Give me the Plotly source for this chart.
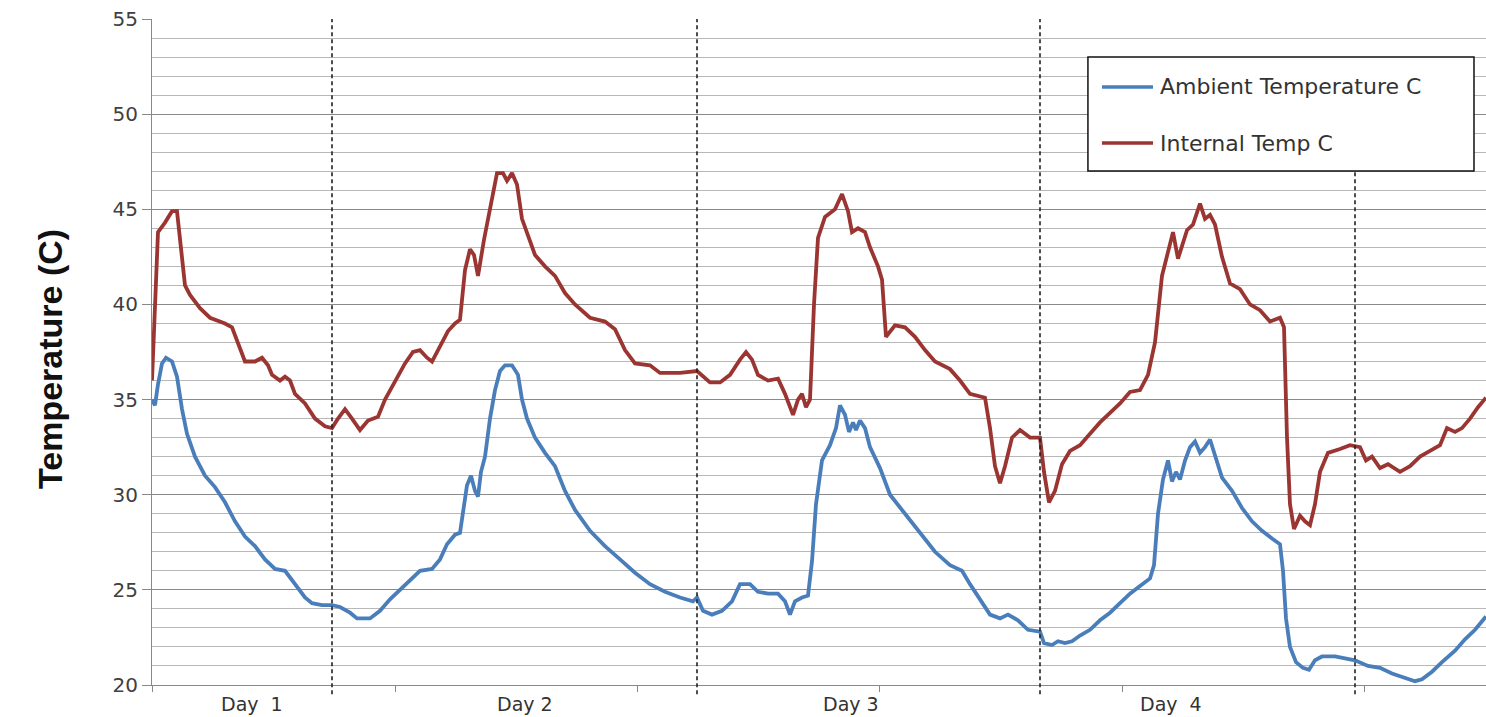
import plotly.graph_objects as go

# elapsed time (arbitrary sample units) and temperatures
amb_t = [0, 3, 6, 10, 14, 20, 25, 30, 35, 43, 53, 63, 73, 83, 93, 103, 113, 123, 133, 143, 153, 160, 170, 180,
         188, 198, 205, 218, 228, 238, 248, 258, 268, 280, 288, 295, 303, 308, 311, 315, 319, 323, 326, 329, 333,
         338, 343, 348, 353, 360, 366, 370, 375, 383, 393, 403, 413, 423, 438, 453, 468, 483, 498, 513, 528, 541,
         545, 551, 560, 570, 580, 588, 598, 606, 616, 626, 633, 638, 643, 650, 656, 660, 664, 670, 678, 684, 688,
         693, 697, 701, 704, 708, 713, 718, 728, 738, 753, 768, 783, 798, 810, 818, 828, 838, 848, 856, 866, 876,
         888, 892, 900, 906, 913, 920, 928, 938, 948, 958, 968, 978, 988, 998, 1002, 1006, 1011, 1016, 1020, 1024,
         1028, 1033, 1038, 1043, 1048, 1053, 1058, 1063, 1070, 1080, 1090, 1100, 1110, 1120, 1128, 1131, 1134,
         1138, 1144, 1151, 1157, 1163, 1170, 1183, 1193, 1203, 1216, 1228, 1240, 1253, 1263, 1270, 1280, 1290,
         1303, 1313, 1323, 1334]
amb_v = [35.0, 34.7, 35.8, 36.9, 37.2, 37.0, 36.2, 34.5, 33.2, 32.0, 31.0, 30.4, 29.6, 28.6, 27.8, 27.3, 26.6,
         26.1, 26.0, 25.3, 24.6, 24.3, 24.2, 24.2, 24.1, 23.8, 23.5, 23.5, 23.9, 24.5, 25.0, 25.5, 26.0, 26.1,
         26.6, 27.4, 27.9, 28.0, 29.0, 30.5, 31.0, 30.2, 29.9, 31.2, 32.0, 34.0, 35.5, 36.5, 36.8, 36.8, 36.3,
         35.0, 34.0, 33.0, 32.2, 31.5, 30.2, 29.2, 28.1, 27.3, 26.6, 25.9, 25.3, 24.9, 24.6, 24.4, 24.6, 23.9,
         23.7, 23.9, 24.4, 25.3, 25.3, 24.9, 24.8, 24.8, 24.4, 23.7, 24.4, 24.6, 24.7, 26.5, 29.5, 31.8, 32.6,
         33.5, 34.7, 34.2, 33.3, 33.8, 33.4, 33.9, 33.5, 32.5, 31.4, 30.0, 29.0, 28.0, 27.0, 26.3, 26.0, 25.3,
         24.5, 23.7, 23.5, 23.7, 23.4, 22.9, 22.8, 22.2, 22.1, 22.3, 22.2, 22.3, 22.6, 22.9, 23.4, 23.8, 24.3,
         24.8, 25.2, 25.6, 26.3, 29.0, 30.8, 31.8, 30.7, 31.2, 30.8, 31.8, 32.5, 32.8, 32.2, 32.5, 32.9, 32.0,
         30.9, 30.2, 29.3, 28.6, 28.1, 27.7, 27.4, 26.0, 23.5, 22.0, 21.2, 20.9, 20.8, 21.3, 21.5, 21.5, 21.4,
         21.3, 21.0, 20.9, 20.6, 20.4, 20.2, 20.3, 20.7, 21.2, 21.8, 22.4, 22.9, 23.6]

int_t = [0, 6, 13, 20, 25, 29, 33, 38, 48, 58, 73, 80, 86, 93, 103, 110, 116, 120, 128, 133, 138, 143, 153, 163,
         173, 180, 186, 193, 200, 208, 216, 226, 233, 243, 253, 261, 268, 275, 280, 288, 296, 303, 308, 313, 318,
         322, 326, 332, 338, 345, 351, 355, 360, 365, 370, 376, 383, 393, 403, 413, 423, 438, 453, 463, 473, 483,
         498, 508, 528, 545, 558, 568, 578, 588, 594, 600, 606, 616, 626, 633, 641, 646, 650, 654, 658, 662, 666,
         673, 683, 690, 696, 700, 706, 713, 718, 726, 730, 734, 738, 743, 753, 763, 773, 783, 798, 808, 818, 833,
         838, 843, 848, 853, 860, 868, 878, 888, 892, 897, 903, 910, 918, 928, 938, 948, 958, 968, 978, 988, 996,
         1003, 1010, 1016, 1021, 1026, 1031, 1035, 1041, 1048, 1053, 1058, 1063, 1070, 1078, 1088, 1098, 1108,
         1118, 1128, 1132, 1135, 1138, 1142, 1148, 1153, 1158, 1163, 1168, 1176, 1188, 1198, 1208, 1214, 1220,
         1228, 1236, 1248, 1258, 1268, 1278, 1288, 1295, 1303, 1310, 1318, 1326, 1334]
int_v = [36.0, 43.8, 44.3, 44.9, 44.9, 43.0, 41.0, 40.5, 39.8, 39.3, 39.0, 38.8, 38.0, 37.0, 37.0, 37.2, 36.8,
         36.3, 36.0, 36.2, 36.0, 35.3, 34.8, 34.0, 33.6, 33.5, 34.0, 34.5, 34.0, 33.4, 33.9, 34.1, 35.0, 36.0,
         36.9, 37.5, 37.6, 37.2, 37.0, 37.8, 38.6, 39.0, 39.2, 41.8, 42.9, 42.6, 41.5, 43.4, 45.0, 46.9, 46.9,
         46.5, 46.9, 46.3, 44.5, 43.6, 42.6, 42.0, 41.5, 40.6, 40.0, 39.3, 39.1, 38.7, 37.6, 36.9, 36.8, 36.4,
         36.4, 36.5, 35.9, 35.9, 36.3, 37.1, 37.5, 37.1, 36.3, 36.0, 36.1, 35.3, 34.2, 35.0, 35.3, 34.6, 35.0,
         40.0, 43.5, 44.6, 45.0, 45.8, 44.9, 43.8, 44.0, 43.8, 43.0, 42.0, 41.3, 38.3, 38.6, 38.9, 38.8, 38.3,
         37.6, 37.0, 36.6, 36.0, 35.3, 35.1, 33.5, 31.5, 30.6, 31.5, 33.0, 33.4, 33.0, 33.0, 31.2, 29.6, 30.2,
         31.6, 32.3, 32.6, 33.2, 33.8, 34.3, 34.8, 35.4, 35.5, 36.3, 38.0, 41.5, 42.8, 43.8, 42.4, 43.2, 43.9,
         44.2, 45.3, 44.5, 44.7, 44.2, 42.5, 41.1, 40.8, 40.0, 39.7, 39.1, 39.3, 38.8, 33.0, 29.5, 28.2, 28.9,
         28.6, 28.4, 29.5, 31.2, 32.2, 32.4, 32.6, 32.5, 31.8, 32.0, 31.4, 31.6, 31.2, 31.5, 32.0, 32.3, 32.6,
         33.5, 33.3, 33.5, 34.0, 34.6, 35.1]

day_labels = ["Day  1", "Day 2", "Day 3", "Day  4"]
day_label_t = [100, 373, 699, 1019]
day_break_t = [180, 545, 888, 1203]
axis_tick_t = [0, 243, 485, 727, 970, 1212]
series_names = ["Ambient Temperature C", "Internal Temp C"]
BLUE = "#4a7ebb"
RED = "#9b3532"

fig = go.Figure()
fig.add_trace(go.Scatter(x=amb_t, y=amb_v, mode="lines", name=series_names[0],
                         line=dict(color=BLUE, width=3.8), showlegend=False))
fig.add_trace(go.Scatter(x=int_t, y=int_v, mode="lines", name=series_names[1],
                         line=dict(color=RED, width=3.8), showlegend=False))

# dashed day separators (last one stops below the legend box)
for i, t in enumerate(day_break_t):
    top = 1.0 if i < len(day_break_t) - 1 else 0.772
    fig.add_shape(type="line", xref="x", yref="paper", x0=t, x1=t, y0=-0.014, y1=top,
                  line=dict(color="#222222", width=1.6, dash="4px,3px"), layer="above")

# manual legend box
fig.add_shape(type="rect", xref="paper", yref="paper", x0=0.7016, x1=0.9910, y0=0.7718, y1=0.9429,
              line=dict(color="#111111", width=1.5), fillcolor="white", layer="above")
leg_y = [0.8979, 0.8138]
for name, col, yy in zip(series_names, [BLUE, RED], leg_y):
    fig.add_shape(type="line", xref="paper", yref="paper", x0=0.7121, x1=0.7504, y0=yy, y1=yy,
                  line=dict(color=col, width=3.5), layer="above")
    fig.add_annotation(xref="paper", yref="paper", x=0.7541, y=yy, text=name, showarrow=False,
                       xanchor="left", yanchor="middle",
                       font=dict(family="DejaVu Sans", size=22, color="#333333"))

# day labels
for lab, t in zip(day_labels, day_label_t):
    fig.add_annotation(xref="x", yref="paper", x=t, y=0, yshift=-19, text=lab, showarrow=False,
                       xanchor="center", yanchor="middle",
                       font=dict(family="DejaVu Sans", size=19, color="#333333"))

# y axis title
fig.add_annotation(xref="paper", yref="paper", x=-0.0765, y=0.4895, text="<b>Temperature (C)</b>",
                   showarrow=False, textangle=-90, xanchor="center", yanchor="middle",
                   font=dict(family="Liberation Sans", size=34, color="#111111"))

fig.update_layout(
    width=1486, height=717,
    margin=dict(l=152, r=0, t=19, b=32),
    paper_bgcolor="white", plot_bgcolor="white",
    showlegend=False,
    xaxis=dict(range=[0, 1334], showgrid=False, zeroline=False,
               showline=True, linecolor="#888888", linewidth=1.2,
               tickmode="array", tickvals=axis_tick_t, ticktext=["" for _ in axis_tick_t],
               ticks="outside", ticklen=6, tickcolor="#888888", tickwidth=1.2),
    yaxis=dict(range=[20, 55], tickmode="linear", tick0=20, dtick=5,
               showgrid=True, gridcolor="#8a8a8a", gridwidth=1.2, zeroline=False,
               showline=True, linecolor="#888888", linewidth=1.2,
               ticks="outside", ticklen=9, tickcolor="#888888", tickwidth=1.2,
               tickfont=dict(family="DejaVu Sans", size=20, color="#404040"),
               minor=dict(dtick=1, tick0=20, showgrid=True, gridcolor="#b8b8b8", gridwidth=1, ticks="")),
)

fig.write_html("out.html", config={"displayModeBar": False},
               post_script="document.body.style.margin='0';document.body.style.padding='0';")
